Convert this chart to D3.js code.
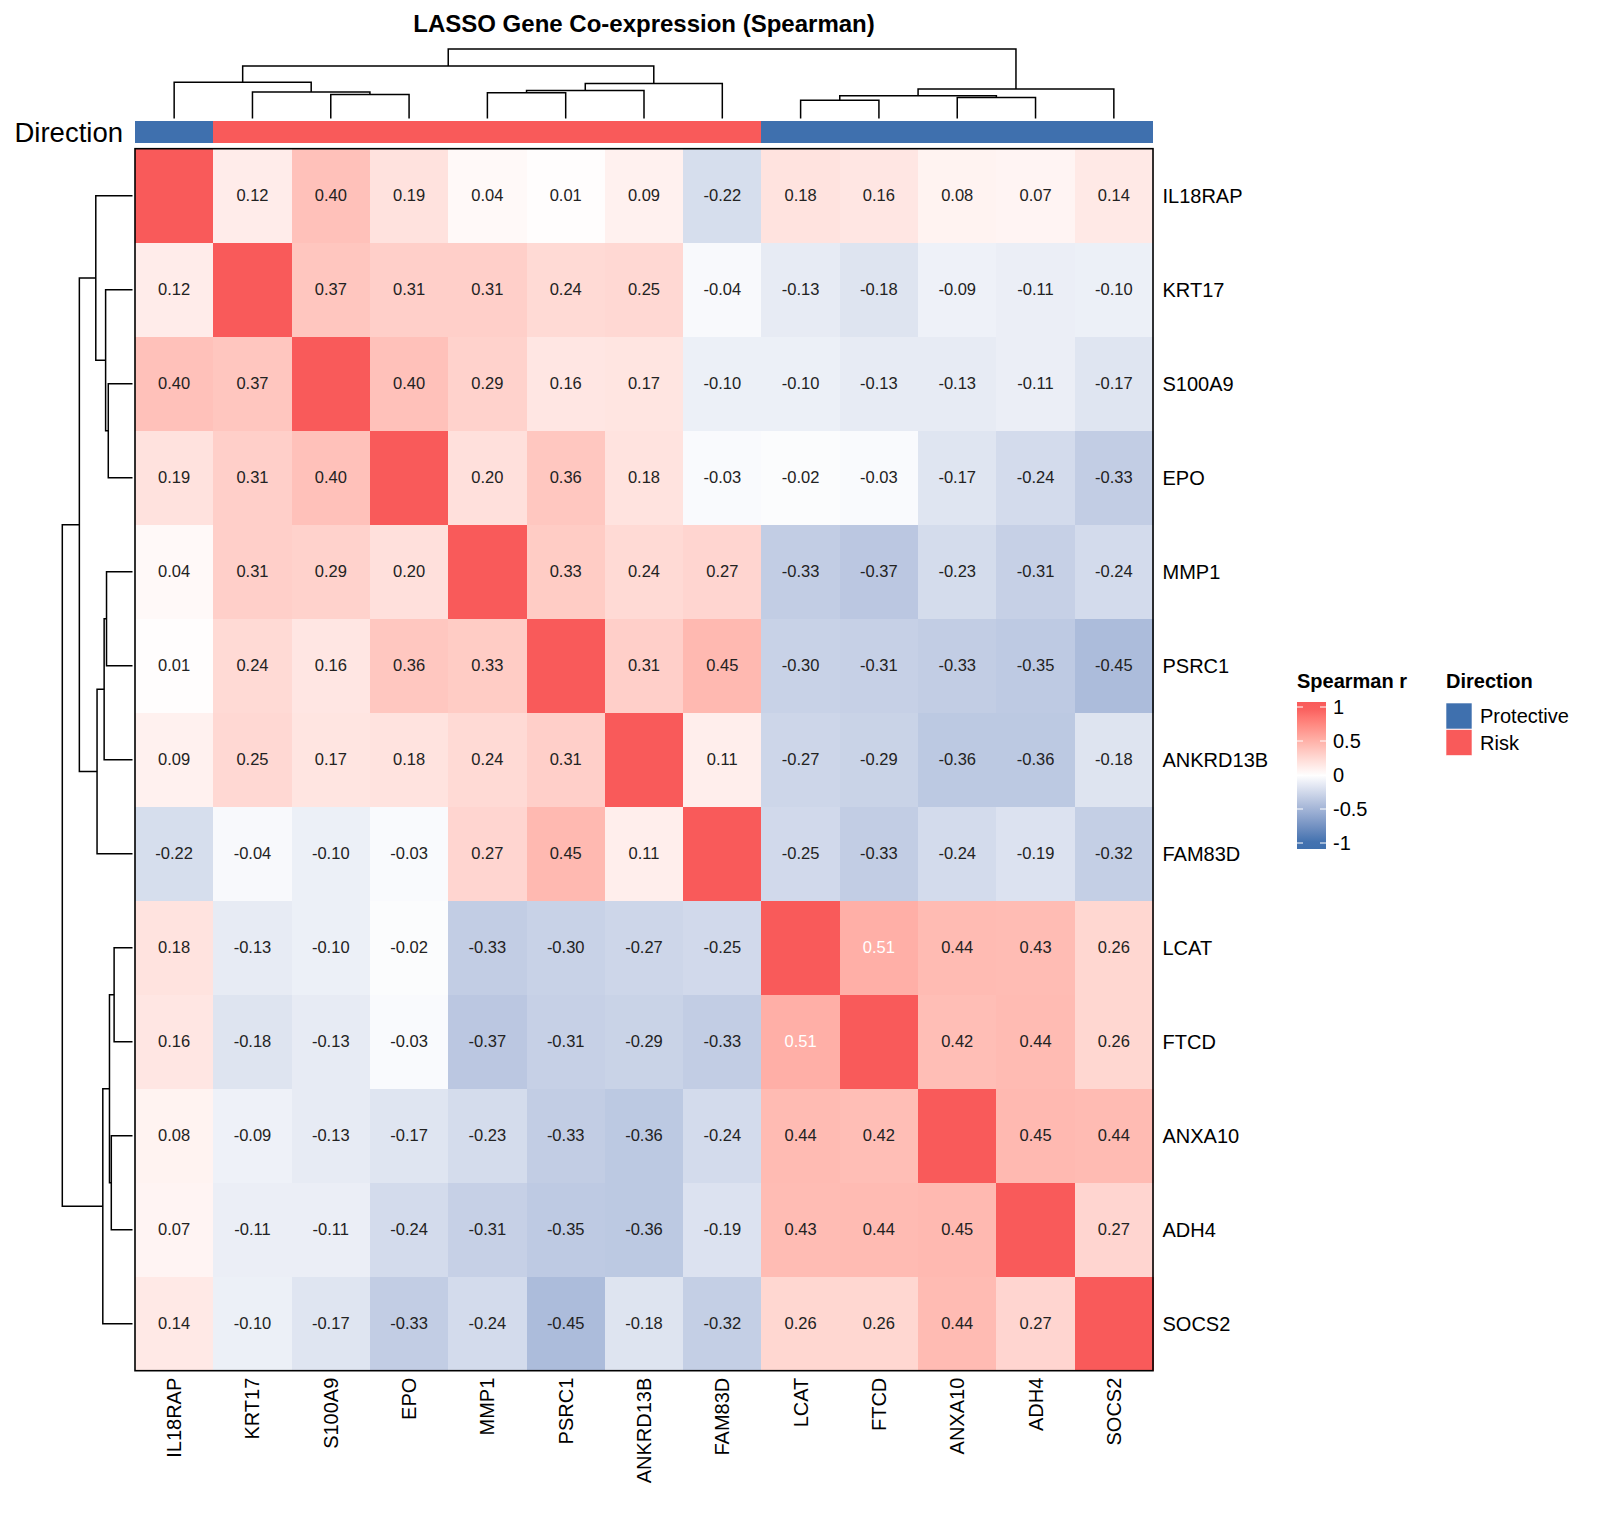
<!DOCTYPE html>
<html>
<head>
<meta charset="utf-8">
<title>LASSO Gene Co-expression (Spearman)</title>
<script src="https://cdn.jsdelivr.net/npm/d3@7"></script>
<style>
  body { margin: 0; background: #fff; }
  svg text { font-family: "Liberation Sans", Arial, Helvetica, sans-serif; }
</style>
</head>
<body>
<div id="chart"></div>
<script>
// genes, already in the clustered order (same for rows and columns)
const genes = ["IL18RAP", "KRT17", "S100A9", "EPO", "MMP1", "PSRC1", "ANKRD13B",
               "FAM83D", "LCAT", "FTCD", "ANXA10", "ADH4", "SOCS2"];

const direction = ["Protective", "Risk", "Risk", "Risk", "Risk", "Risk", "Risk",
                   "Risk", "Protective", "Protective", "Protective", "Protective", "Protective"];

const directionLevels = ["Protective", "Risk"];

// spearman r, row by row
const corr = [
  [ 1.00,  0.12,  0.40,  0.19,  0.04,  0.01,  0.09, -0.22,  0.18,  0.16,  0.08,  0.07,  0.14],
  [ 0.12,  1.00,  0.37,  0.31,  0.31,  0.24,  0.25, -0.04, -0.13, -0.18, -0.09, -0.11, -0.10],
  [ 0.40,  0.37,  1.00,  0.40,  0.29,  0.16,  0.17, -0.10, -0.10, -0.13, -0.13, -0.11, -0.17],
  [ 0.19,  0.31,  0.40,  1.00,  0.20,  0.36,  0.18, -0.03, -0.02, -0.03, -0.17, -0.24, -0.33],
  [ 0.04,  0.31,  0.29,  0.20,  1.00,  0.33,  0.24,  0.27, -0.33, -0.37, -0.23, -0.31, -0.24],
  [ 0.01,  0.24,  0.16,  0.36,  0.33,  1.00,  0.31,  0.45, -0.30, -0.31, -0.33, -0.35, -0.45],
  [ 0.09,  0.25,  0.17,  0.18,  0.24,  0.31,  1.00,  0.11, -0.27, -0.29, -0.36, -0.36, -0.18],
  [-0.22, -0.04, -0.10, -0.03,  0.27,  0.45,  0.11,  1.00, -0.25, -0.33, -0.24, -0.19, -0.32],
  [ 0.18, -0.13, -0.10, -0.02, -0.33, -0.30, -0.27, -0.25,  1.00,  0.51,  0.44,  0.43,  0.26],
  [ 0.16, -0.18, -0.13, -0.03, -0.37, -0.31, -0.29, -0.33,  0.51,  1.00,  0.42,  0.44,  0.26],
  [ 0.08, -0.09, -0.13, -0.17, -0.23, -0.33, -0.36, -0.24,  0.44,  0.42,  1.00,  0.45,  0.44],
  [ 0.07, -0.11, -0.11, -0.24, -0.31, -0.35, -0.36, -0.19,  0.43,  0.44,  0.45,  1.00,  0.27],
  [ 0.14, -0.10, -0.17, -0.33, -0.24, -0.45, -0.18, -0.32,  0.26,  0.26,  0.44,  0.27,  1.00]
];

// hclust style merges: [left, right, height]; a string is a leaf, a number is an earlier merge
const merges = [
  ["S100A9", "EPO", 0.345],
  ["KRT17", 0, 0.383],
  ["IL18RAP", 1, 0.523],
  ["MMP1", "PSRC1", 0.370],
  [3, "ANKRD13B", 0.404],
  [4, "FAM83D", 0.505],
  [2, 5, 0.757],
  ["LCAT", "FTCD", 0.262],
  ["ANXA10", "ADH4", 0.302],
  [7, 8, 0.328],
  [9, "SOCS2", 0.423],
  [6, 10, 1.000]
];

const legendTicks = [1, 0.5, 0, -0.5, -1];
const legendTickLabels = ["1", "0.5", "0", "-0.5", "-1"];

// ---- layout ----
const W = 1600, H = 1513;
const hm = {left: 135, right: 1153, top: 148.7, bottom: 1370.7};
const BLUE = "#3F70AE", RED = "#F95A5A";

const svg = d3.select("#chart").append("svg")
    .attr("width", W)
    .attr("height", H)
    .style("display", "block");

const x = d3.scaleBand().domain(genes).range([hm.left, hm.right]);
const y = d3.scaleBand().domain(genes).range([hm.top, hm.bottom]);

// index (can be fractional for inner nodes) -> pixel centre
const xIdx = d3.scaleLinear().domain([-0.5, genes.length - 0.5]).range([hm.left, hm.right]);
const yIdx = d3.scaleLinear().domain([-0.5, genes.length - 0.5]).range([hm.top, hm.bottom]);

const color = d3.scaleLinear()
    .domain([-1, 0, 1])
    .range([BLUE, "#ffffff", RED])
    .interpolate(d3.interpolateLab)
    .clamp(true);

const dirColor = d3.scaleOrdinal().domain(directionLevels).range([BLUE, RED]);

// title
svg.append("text")
    .attr("x", (hm.left + hm.right) / 2)
    .attr("y", 31.7)
    .attr("text-anchor", "middle")
    .attr("font-size", 24)
    .attr("font-weight", "bold")
    .text("LASSO Gene Co-expression (Spearman)");

// ---- cells ----
const cells = [];
corr.forEach((row, i) => row.forEach((v, j) => cells.push({r: genes[i], c: genes[j], v: v, diag: i === j})));

const gCells = svg.append("g");
gCells.selectAll("rect")
    .data(cells)
    .enter()
    .append("rect")
    .attr("x", d => x(d.c))
    .attr("y", d => y(d.r))
    .attr("width", x.bandwidth() + 0.5)
    .attr("height", y.bandwidth() + 0.5)
    .attr("shape-rendering", "crispEdges")
    .attr("fill", d => color(d.v));

gCells.selectAll("text")
    .data(cells.filter(d => !d.diag))
    .enter()
    .append("text")
    .attr("x", d => x(d.c) + x.bandwidth() / 2)
    .attr("y", d => y(d.r) + y.bandwidth() / 2)
    .attr("dy", "0.35em")
    .attr("text-anchor", "middle")
    .attr("font-size", 16.5)
    .attr("fill", d => Math.abs(d.v) > 0.5 ? "#ffffff" : "#222222")
    .text(d => d.v.toFixed(2));

// heatmap border
svg.append("rect")
    .attr("x", hm.left)
    .attr("y", hm.top)
    .attr("width", hm.right - hm.left)
    .attr("height", hm.bottom - hm.top)
    .attr("fill", "none")
    .attr("stroke", "#000")
    .attr("stroke-width", 1.6);

// ---- direction annotation ----
svg.append("g").selectAll("rect")
    .data(genes)
    .enter()
    .append("rect")
    .attr("x", d => x(d))
    .attr("y", 121)
    .attr("width", (d, i) => i === genes.length - 1 ? x.bandwidth() : x.bandwidth() + 1)
    .attr("height", 22)
    .attr("shape-rendering", "crispEdges")
    .attr("fill", (d, i) => dirColor(direction[i]));

svg.append("text")
    .attr("x", 123)
    .attr("y", 142)
    .attr("text-anchor", "end")
    .attr("font-size", 27.5)
    .text("Direction");

// ---- labels ----
svg.append("g").selectAll("text")
    .data(genes)
    .enter()
    .append("text")
    .attr("x", hm.right + 9.5)
    .attr("y", d => y(d) + y.bandwidth() / 2)
    .attr("dy", "0.35em")
    .attr("font-size", 20)
    .text(d => d);

svg.append("g").selectAll("text")
    .data(genes)
    .enter()
    .append("text")
    .attr("transform", d => `translate(${x(d) + x.bandwidth() / 2},${hm.bottom + 7}) rotate(-90)`)
    .attr("dy", "0.35em")
    .attr("text-anchor", "end")
    .attr("font-size", 20)
    .text(d => d);

// ---- dendrograms ----
function dendroSegments(merges) {
    // returns one elbow per merge, in (index, height) space
    let nodes = [];
    let segs = [];
    const get = ref => typeof ref === "string" ? {p: genes.indexOf(ref), h: 0} : nodes[ref];
    merges.forEach(m => {
        let a = get(m[0]), b = get(m[1]);
        nodes.push({p: (a.p + b.p) / 2, h: m[2]});
        segs.push({a: a, b: b, h: m[2]});
    });
    return segs;
}
const segs = dendroSegments(merges);

const topH = d3.scaleLinear().domain([0, 1]).range([118.5, 49]);
const leftH = d3.scaleLinear().domain([0, 1]).range([132.5, 62.3]);

svg.append("g").selectAll("path")
    .data(segs)
    .enter()
    .append("path")
    .attr("d", s => `M${xIdx(s.a.p)},${topH(s.a.h)}V${topH(s.h)}H${xIdx(s.b.p)}V${topH(s.b.h)}`)
    .attr("fill", "none")
    .attr("stroke", "#000")
    .attr("stroke-width", 1.5);

svg.append("g").selectAll("path")
    .data(segs)
    .enter()
    .append("path")
    .attr("d", s => `M${leftH(s.a.h)},${yIdx(s.a.p)}H${leftH(s.h)}V${yIdx(s.b.p)}H${leftH(s.b.h)}`)
    .attr("fill", "none")
    .attr("stroke", "#000")
    .attr("stroke-width", 1.5);

// ---- legends ----
const leg = {x: 1297, top: 702, bottom: 849, w: 29};
const legY = d3.scaleLinear().domain([-1, 1]).range([843, 707]);

svg.append("text")
    .attr("x", leg.x)
    .attr("y", 688)
    .attr("font-size", 20)
    .attr("font-weight", "bold")
    .text("Spearman r");

const grad = svg.append("defs").append("linearGradient")
    .attr("id", "corrGrad")
    .attr("x1", 0).attr("y1", 0).attr("x2", 0).attr("y2", 1);
d3.range(0, 1.0001, 0.05).forEach(t => {
    let yy = leg.top + t * (leg.bottom - leg.top);
    grad.append("stop")
        .attr("offset", t)
        .attr("stop-color", color(legY.invert(yy)));
});

svg.append("rect")
    .attr("x", leg.x)
    .attr("y", leg.top)
    .attr("width", leg.w)
    .attr("height", leg.bottom - leg.top)
    .attr("fill", "url(#corrGrad)");

const tickG = svg.append("g").selectAll("g")
    .data(legendTicks)
    .enter()
    .append("g")
    .attr("transform", d => `translate(0,${legY(d)})`);

tickG.append("line")
    .attr("x1", leg.x).attr("x2", leg.x + 6)
    .attr("stroke", "#fff").attr("stroke-width", 1);
tickG.append("line")
    .attr("x1", leg.x + leg.w - 6).attr("x2", leg.x + leg.w)
    .attr("stroke", "#fff").attr("stroke-width", 1);
tickG.append("text")
    .attr("x", leg.x + leg.w + 7)
    .attr("dy", "0.35em")
    .attr("font-size", 20)
    .text((d, i) => legendTickLabels[i]);

svg.append("text")
    .attr("x", 1446)
    .attr("y", 688)
    .attr("font-size", 20)
    .attr("font-weight", "bold")
    .text("Direction");

const dirG = svg.append("g").selectAll("g")
    .data(directionLevels)
    .enter()
    .append("g")
    .attr("transform", (d, i) => `translate(1446,${703 + i * 26.5})`);

dirG.append("rect")
    .attr("width", 26)
    .attr("height", 26)
    .attr("fill", d => dirColor(d))
    .attr("stroke", "#fff")
    .attr("stroke-width", 0.6);
dirG.append("text")
    .attr("x", 34)
    .attr("y", 13)
    .attr("dy", "0.35em")
    .attr("font-size", 20)
    .text(d => d);
</script>
</body>
</html>
